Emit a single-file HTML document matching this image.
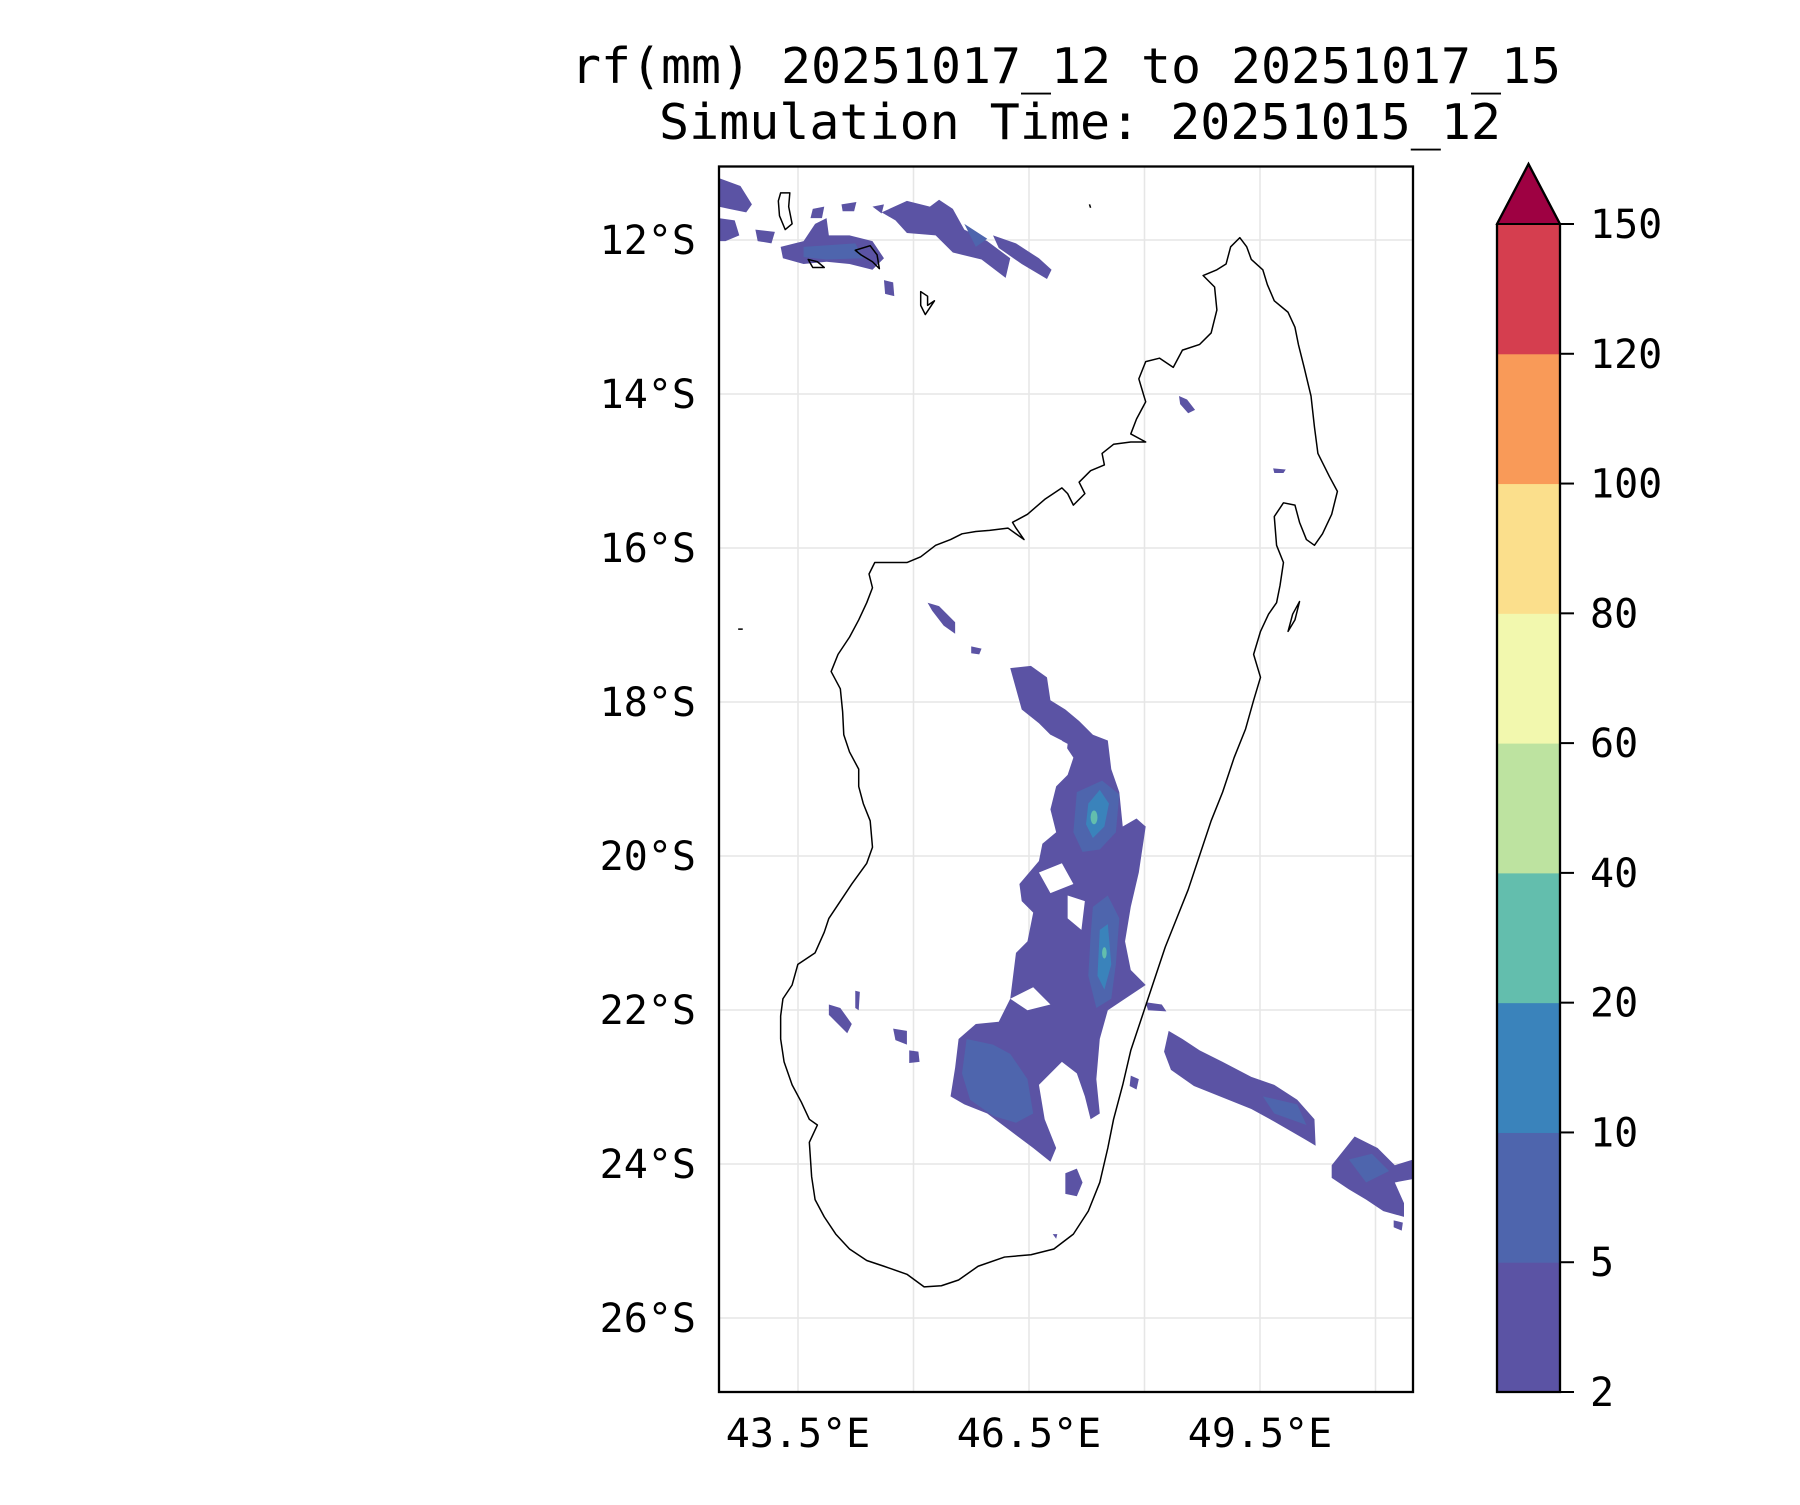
<!DOCTYPE html>
<html><head><meta charset="utf-8"><style>
html,body{margin:0;padding:0;background:#fff;}
svg text{font-family:"DejaVu Sans Mono","Liberation Mono",monospace;fill:#000;}
</style></head><body>
<svg id="fig" width="1800" height="1500" viewBox="0 0 1800 1500" xmlns="http://www.w3.org/2000/svg">
<rect width="1800" height="1500" fill="#fff"/>
<text x="1066" y="83" font-size="49" text-anchor="middle" textLength="990" lengthAdjust="spacingAndGlyphs">rf(mm) 20251017_12 to 20251017_15</text>
<text x="1080" y="139" font-size="49" text-anchor="middle" textLength="842" lengthAdjust="spacingAndGlyphs">Simulation Time: 20251015_12</text>
<defs><clipPath id="mapclip"><rect x="626" y="145" width="605" height="1068"/></clipPath></defs>
<g id="grid"></g>
<g transform="scale(1.148)" clip-path="url(#mapclip)">
 <g stroke="none">
  <g fill="#5b53a4">
   <path d="M626,155 L645,162 L655,178 L650,185 L635,182 L626,180Z M626,190 L640,192 L644,205 L632,210 L626,210Z"/>
   <path d="M680,215 L700,210 L710,195 L720,190 L722,205 L740,205 L760,210 L770,225 L760,235 L740,230 L720,228 L700,230 L682,225Z"/>
   <path d="M768,185 L790,175 L810,180 L818,174 L830,182 L840,200 L860,210 L880,225 L876,242 L855,226 L830,220 L815,205 L790,203 L780,192Z"/>
   <path d="M865,205 L885,212 L905,225 L916,235 L912,243 L890,230 L870,216Z"/>
   <path d="M708,182 L718,180 L716,190 L706,190Z M733,178 L746,176 L744,184 L734,184Z M658,200 L675,202 L672,212 L660,210Z M770,244 L778,246 L779,258 L771,256Z M760,180 L770,178 L768,186Z"/>
   <path d="M1027,345 L1034,348 L1041,357 L1035,360 L1028,352Z M1109,408 L1120,409 L1118,412 L1110,412Z"/>
   <path d="M880,582 L898,580 L912,590 L915,610 L928,618 L940,628 L952,640 L965,645 L968,670 L975,690 L978,720 L990,713 L998,720 L992,760 L985,790 L980,820 L985,845 L998,858 L980,870 L965,880 L958,905 L955,940 L958,970 L950,975 L945,955 L938,935 L925,925 L915,935 L905,945 L910,975 L920,1000 L915,1012 L900,1000 L880,985 L860,970 L840,962 L828,955 L832,930 L835,905 L850,892 L870,890 L880,870 L885,830 L895,820 L900,795 L890,785 L888,770 L905,750 L908,735 L920,725 L915,705 L920,685 L930,675 L935,660 L925,645 L915,640 L905,630 L890,618 L885,600Z"/>
   <path d="M808,525 L818,528 L832,542 L832,552 L822,545 L812,532Z M846,563 L855,565 L853,570 L846,569Z M722,875 L732,878 L742,892 L738,900 L728,890 L722,884Z M745,863 L749,864 L748,880 L745,878Z M778,896 L790,898 L790,910 L780,906Z M792,915 L800,916 L801,925 L792,926Z M928,1022 L938,1018 L943,1030 L938,1042 L928,1040Z M985,937 L992,940 L990,949 L984,946Z M998,873 L1012,875 L1016,881 L1000,880Z M917,1075 L921,1075 L920,1079Z"/>
   <path d="M1018,898 L1030,905 L1045,915 L1065,925 L1090,938 L1110,945 L1130,958 L1145,975 L1146,998 L1136,992 L1110,977 L1090,966 L1065,956 L1040,946 L1020,932 L1014,916Z"/>
   <path d="M1160,1015 L1180,990 L1200,1000 L1215,1015 L1231,1010 L1231,1027 L1215,1030 L1223,1048 L1223,1060 L1205,1055 L1190,1045 L1175,1036 L1160,1026Z M1214,1063 L1222,1065 L1221,1072 L1214,1069Z"/>
  </g>
  <g fill="#fff">
   <path d="M915,640 L930,648 L928,665 L918,660Z M905,760 L925,752 L935,770 L915,778Z M880,870 L900,860 L915,875 L895,880Z M930,780 L945,785 L942,810 L930,800Z"/>
  </g>
  <g fill="#4e65ad">
   <path d="M938,690 L960,680 L975,692 L972,725 L958,740 L943,742 L935,725Z"/>
   <path d="M952,790 L965,780 L975,800 L972,840 L968,870 L955,878 L948,850 L950,815Z"/>
   <path d="M842,905 L865,910 L880,918 L895,940 L900,970 L885,978 L865,972 L845,958 L838,935Z"/>
   <path d="M700,215 L745,212 L752,225 L720,226 L700,224Z M840,195 L860,208 L850,215Z M1100,955 L1130,962 L1138,980 L1110,970Z M1175,1010 L1195,1005 L1210,1020 L1190,1030Z"/>
  </g>
  <g fill="#3a83bb">
   <path d="M948,700 L958,688 L966,700 L962,720 L952,730 L946,718Z"/>
   <path d="M958,810 L965,805 L968,840 L962,862 L956,850Z"/>
  </g>
  <g fill="#63bead">
   <ellipse cx="953" cy="712" rx="3" ry="6"/><ellipse cx="962" cy="830" rx="2" ry="5"/>
  </g>
 </g>
 <g fill="none" stroke="#000" stroke-width="1.3" stroke-linejoin="round">
  <path d="M1080,207 L1086,215 L1090,226 L1100,235 L1104,248 L1110,262 L1122,272 L1128,285 L1131,300 L1136,320 L1142,345 L1145,372 L1148,395 L1158,415 L1165,428 L1160,448 L1152,465 L1145,475 L1138,470 L1132,455 L1128,440 L1118,438 L1110,450 L1112,475 L1118,490 L1115,510 L1112,525 L1105,535 L1098,550 L1092,570 L1098,590 L1092,610 L1085,635 L1075,660 L1065,690 L1055,715 L1045,745 L1035,775 L1025,800 L1015,825 L1005,855 L995,885 L985,915 L978,945 L970,975 L965,1000 L958,1030 L948,1055 L935,1075 L918,1088 L898,1093 L875,1095 L852,1103 L835,1115 L820,1120 L805,1121 L790,1110 L770,1103 L755,1098 L740,1088 L728,1075 L718,1060 L710,1045 L707,1025 L705,995 L712,980 L705,975 L698,960 L690,945 L683,925 L680,905 L680,885 L682,870 L690,858 L695,840 L710,830 L718,812 L722,800 L732,785 L742,770 L755,752 L760,738 L758,715 L752,700 L748,685 L748,670 L740,655 L735,640 L734,620 L732,600 L724,585 L730,570 L740,555 L748,540 L755,525 L760,512 L757,500 L762,490 L790,490 L802,485 L815,475 L828,470 L838,465 L850,463 L862,462 L878,460 L892,470 L885,460 L882,455 L895,448 L910,435 L925,425 L930,430 L935,440 L945,430 L940,420 L950,410 L962,405 L960,395 L970,387 L985,385 L998,385 L985,378 L990,365 L998,350 L992,330 L998,315 L1010,312 L1022,320 L1030,305 L1045,300 L1055,290 L1060,270 L1058,250 L1048,240 L1060,235 L1068,230 L1072,215 Z"/>
  <path d="M680,168 L688,168 L687,180 L690,195 L684,200 L679,188 L678,175Z"/>
  <path d="M704,226 L712,228 L718,233 L708,233Z"/>
  <path d="M745,218 L758,214 L764,222 L766,234 L760,228 L750,222Z"/>
  <path d="M802,254 L808,258 L808,266 L814,262 L806,274 L802,266Z"/>
  <path d="M643,548 L647,548"/>
  <path d="M949,178 L950,181"/>
  <path d="M1132,524 L1128,540 L1122,550 L1126,535Z"/>
 </g>
</g>
<rect x="719" y="166.5" width="694" height="1225.5" fill="none" stroke="#000" stroke-width="2.3"/>
<g id="axes"></g>
<g id="cbar"></g>
<script>
const latTicks=[12,14,16,18,20,22,24,26];
const lonTicks=[43.5,45,46.5,48,49.5,51];
const lonLabels=[43.5,46.5,49.5];
const cbLevels=[2,5,10,20,40,60,80,100,120,150];
const cbColors=["#5b53a4","#4e65ad","#3a83bb","#63bead","#bde3a0","#f2f8ae","#fbdf8c","#f99a58","#d53e4f"];
const overColor="#9e0142";
const NS="http://www.w3.org/2000/svg";
const X0=719,X1=1413,Y0=166.5,Y1=1392;
function xLon(l){return 798+(l-43.5)*77;}
function yLat(l){return 240+(l-12)*77;}
function mk(tag,attrs,parent){const e=document.createElementNS(NS,tag);for(const k in attrs)e.setAttribute(k,attrs[k]);parent.appendChild(e);return e;}
const grid=document.getElementById('grid'),axes=document.getElementById('axes'),cb=document.getElementById('cbar');
latTicks.forEach(v=>{const y=yLat(v);
 const g=mk('line',{x1:X0,x2:X1,y1:y,y2:y,stroke:'#e6e6e6','stroke-width':1.5},grid);
 
 
 const t=mk('text',{x:696,y:y+14,'font-size':40,'text-anchor':'end'},axes);t.textContent=v+'°S';
 
 
});
lonTicks.forEach(v=>{const x=xLon(v);
 const g=mk('line',{x1:x,x2:x,y1:Y0,y2:Y1,stroke:'#e6e6e6','stroke-width':1.5},grid);
 
 
});
lonLabels.forEach(v=>{const t=mk('text',{x:xLon(v),y:1447,'font-size':40,'text-anchor':'middle'},axes);t.textContent=v+'°E';
 
 
});
const CX0=1497,CX1=1560,CTOP=224,CBOT=1392,TIP=164;
const segH=(CBOT-CTOP)/(cbLevels.length-1);
function yLev(i){return CBOT-i*segH;}
cbColors.forEach((c,i)=>{const r=mk('rect',{x:CX0,y:yLev(i+1),width:CX1-CX0,height:segH+0.5,fill:c},cb);
 
 
});
const tri=mk('polygon',{points:`${CX0},${CTOP} ${CX1},${CTOP} ${(CX0+CX1)/2},${TIP}`,fill:overColor,stroke:'#000','stroke-width':2},cb);


const fr=mk('polygon',{points:`${CX0},${CBOT} ${CX0},${CTOP} ${(CX0+CX1)/2},${TIP} ${CX1},${CTOP} ${CX1},${CBOT}`,fill:'none',stroke:'#000','stroke-width':2.3},cb);


cbLevels.forEach((v,i)=>{const y=yLev(i);
 const tk=mk('line',{x1:CX1,x2:CX1+14,y1:y,y2:y,stroke:'#000','stroke-width':2},cb);
 
 
 const t=mk('text',{x:1590,y:y+14,'font-size':40},cb);t.textContent=v;
 
 
});
</script>
</svg>
</body></html>
